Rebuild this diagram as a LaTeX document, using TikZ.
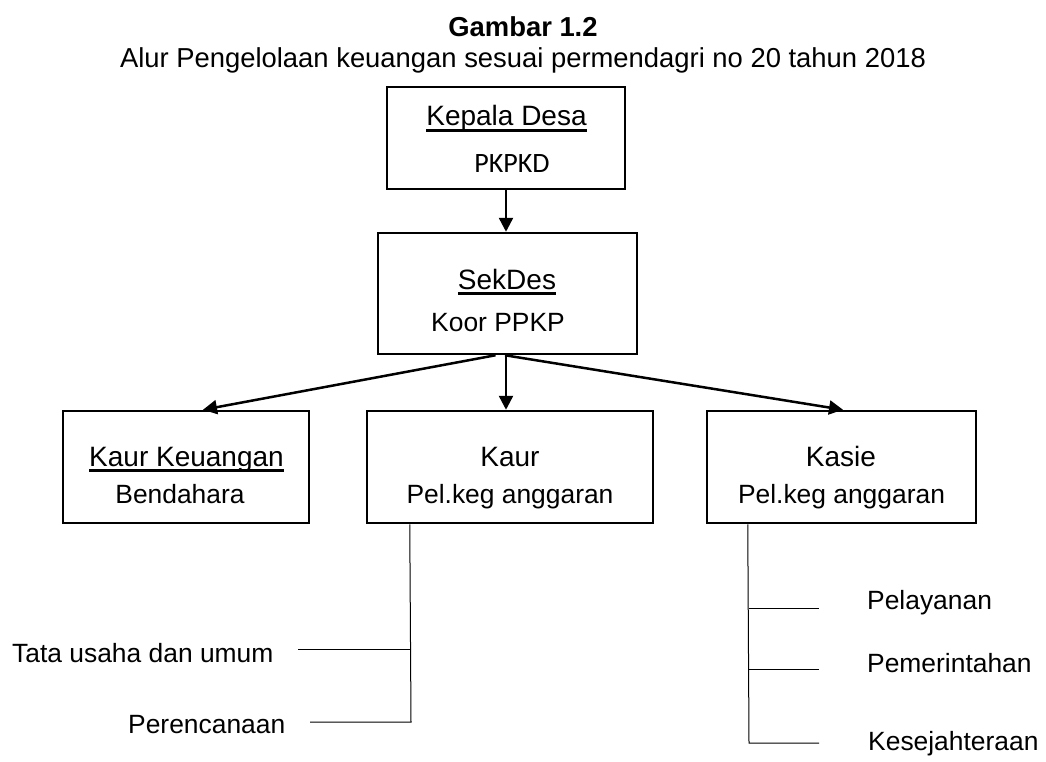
\documentclass[tikz,border=0pt]{standalone}
\usepackage{fontspec}
\setmainfont{Liberation Sans}
\newfontfamily\calibrifont{Carlito}
\usetikzlibrary{arrows.meta,calc}
\newcommand\myul[1]{\setbox0\hbox{#1}\rlap{\vrule width\wd0 height -3.2pt depth 6.2pt}\box0}
\tikzset{
  orgbox/.style={draw, line width=2.5pt, rectangle, inner sep=0pt},
  head/.style={inner sep=0pt, anchor=base, font=\fontsize{28}{30}\selectfont},
  sub/.style={inner sep=0pt, anchor=base, font=\fontsize{26.4}{30}\selectfont},
  leaf/.style={inner sep=0pt, anchor=base west, font=\fontsize{26.4}{30}\selectfont},
  arr/.style={line width=2.5pt, -{Triangle[length=14pt,width=14pt]}},
  branch/.style={line width=1pt},
}
\begin{document}
\begin{tikzpicture}[x=1pt,y=-1pt]
\useasboundingbox (0,0) rectangle (1046,762);
% title
\node[inner sep=0pt, anchor=base, font=\bfseries\fontsize{27.4}{30}\selectfont] (title) at (523,37) {Gambar 1.2};
\node[inner sep=0pt, anchor=base, font=\fontsize{27.4}{30}\selectfont] (subtitle) at (523,68) {Alur Pengelolaan keuangan sesuai permendagri no 20 tahun 2018};
% boxes
\node[orgbox, minimum width=238pt, minimum height=102pt] (kepala) at (506,138) {};
\node[orgbox, minimum width=259pt, minimum height=121pt] (sekdes) at (507.5,293.5) {};
\node[orgbox, minimum width=246pt, minimum height=112pt] (kaurkeu) at (186,467) {};
\node[orgbox, minimum width=286pt, minimum height=112pt] (kaur) at (510,467) {};
\node[orgbox, minimum width=269pt, minimum height=112pt] (kasie) at (841.5,467) {};
% box texts
\node[head] (tkepala) at (506.5,126) {\myul{Kepala Desa}};
\node[inner sep=0pt, anchor=base, font=\calibrifont\fontsize{28}{30}\selectfont] (tpkpkd) at (512,173) {PKPKD};
\node[head] (tsekdes) at (507,289) {\myul{SekDes}};
\node[sub] (tkoor) at (498,331) {Koor PPKP};
\node[head] (tkaurkeu) at (186.5,466) {\myul{Kaur Keuangan}};
\node[sub] (tbend) at (180,503) {Bendahara};
\node[head] (tkaur) at (510,466) {Kaur};
\node[sub] (tpel1) at (510,503) {Pel.keg anggaran};
\node[head] (tkasie) at (841,466) {Kasie};
\node[sub] (tpel2) at (841.5,503) {Pel.keg anggaran};
% arrows
\draw[arr] (kepala.south) -- (kepala.south |- sekdes.north);
\coordinate (sL) at ($(sekdes.south)+(-12,0)$);
\coordinate (sM) at ($(sekdes.south)+(-1.5,0)$);
\coordinate (sR) at ($(sekdes.south)+(-2.5,0)$);
\coordinate (eL) at ($(kaurkeu.north)+(17,0)$);
\coordinate (eM) at ($(kaur.north)+(-4,0)$);
\coordinate (eR) at ($(kasie.north)+(1.5,0)$);
\draw[arr] (sL) -- (eL);
\draw[arr] (sM) -- (eM);
\draw[arr] (sR) -- (eR);
% Kaur branches
\coordinate (kTop) at ($(kaur.south west)+(44,0)$);
\coordinate (kA) at (411,649);
\coordinate (kB) at (411,722);
\coordinate (kAend) at (298,649);
\coordinate (kBend) at (310,722);
\draw[branch] (kTop) -- (kB) -- (kBend);
\draw[branch] (kA) -- (kAend);
\node[leaf] (tata) at (12,662) {Tata usaha dan umum};
\node[leaf] (peren) at (128,733) {Perencanaan};
% Kasie branches
\coordinate (qTop) at ($(kasie.south west)+(42,0)$);
\coordinate (qA) at (749,608);
\coordinate (qB) at (749,669);
\coordinate (qC) at (749,743);
\coordinate (qAend) at (819,608);
\coordinate (qBend) at (819,669);
\coordinate (qCend) at (819,743);
\draw[branch] (qTop) -- (qC) -- (qCend);
\draw[branch] (qA) -- (qAend);
\draw[branch] (qB) -- (qBend);
\node[leaf] (pelay) at (867,609) {Pelayanan};
\node[leaf] (pemer) at (867,672) {Pemerintahan};
\node[leaf] (kesej) at (868,750) {Kesejahteraan};
\end{tikzpicture}
\end{document}
